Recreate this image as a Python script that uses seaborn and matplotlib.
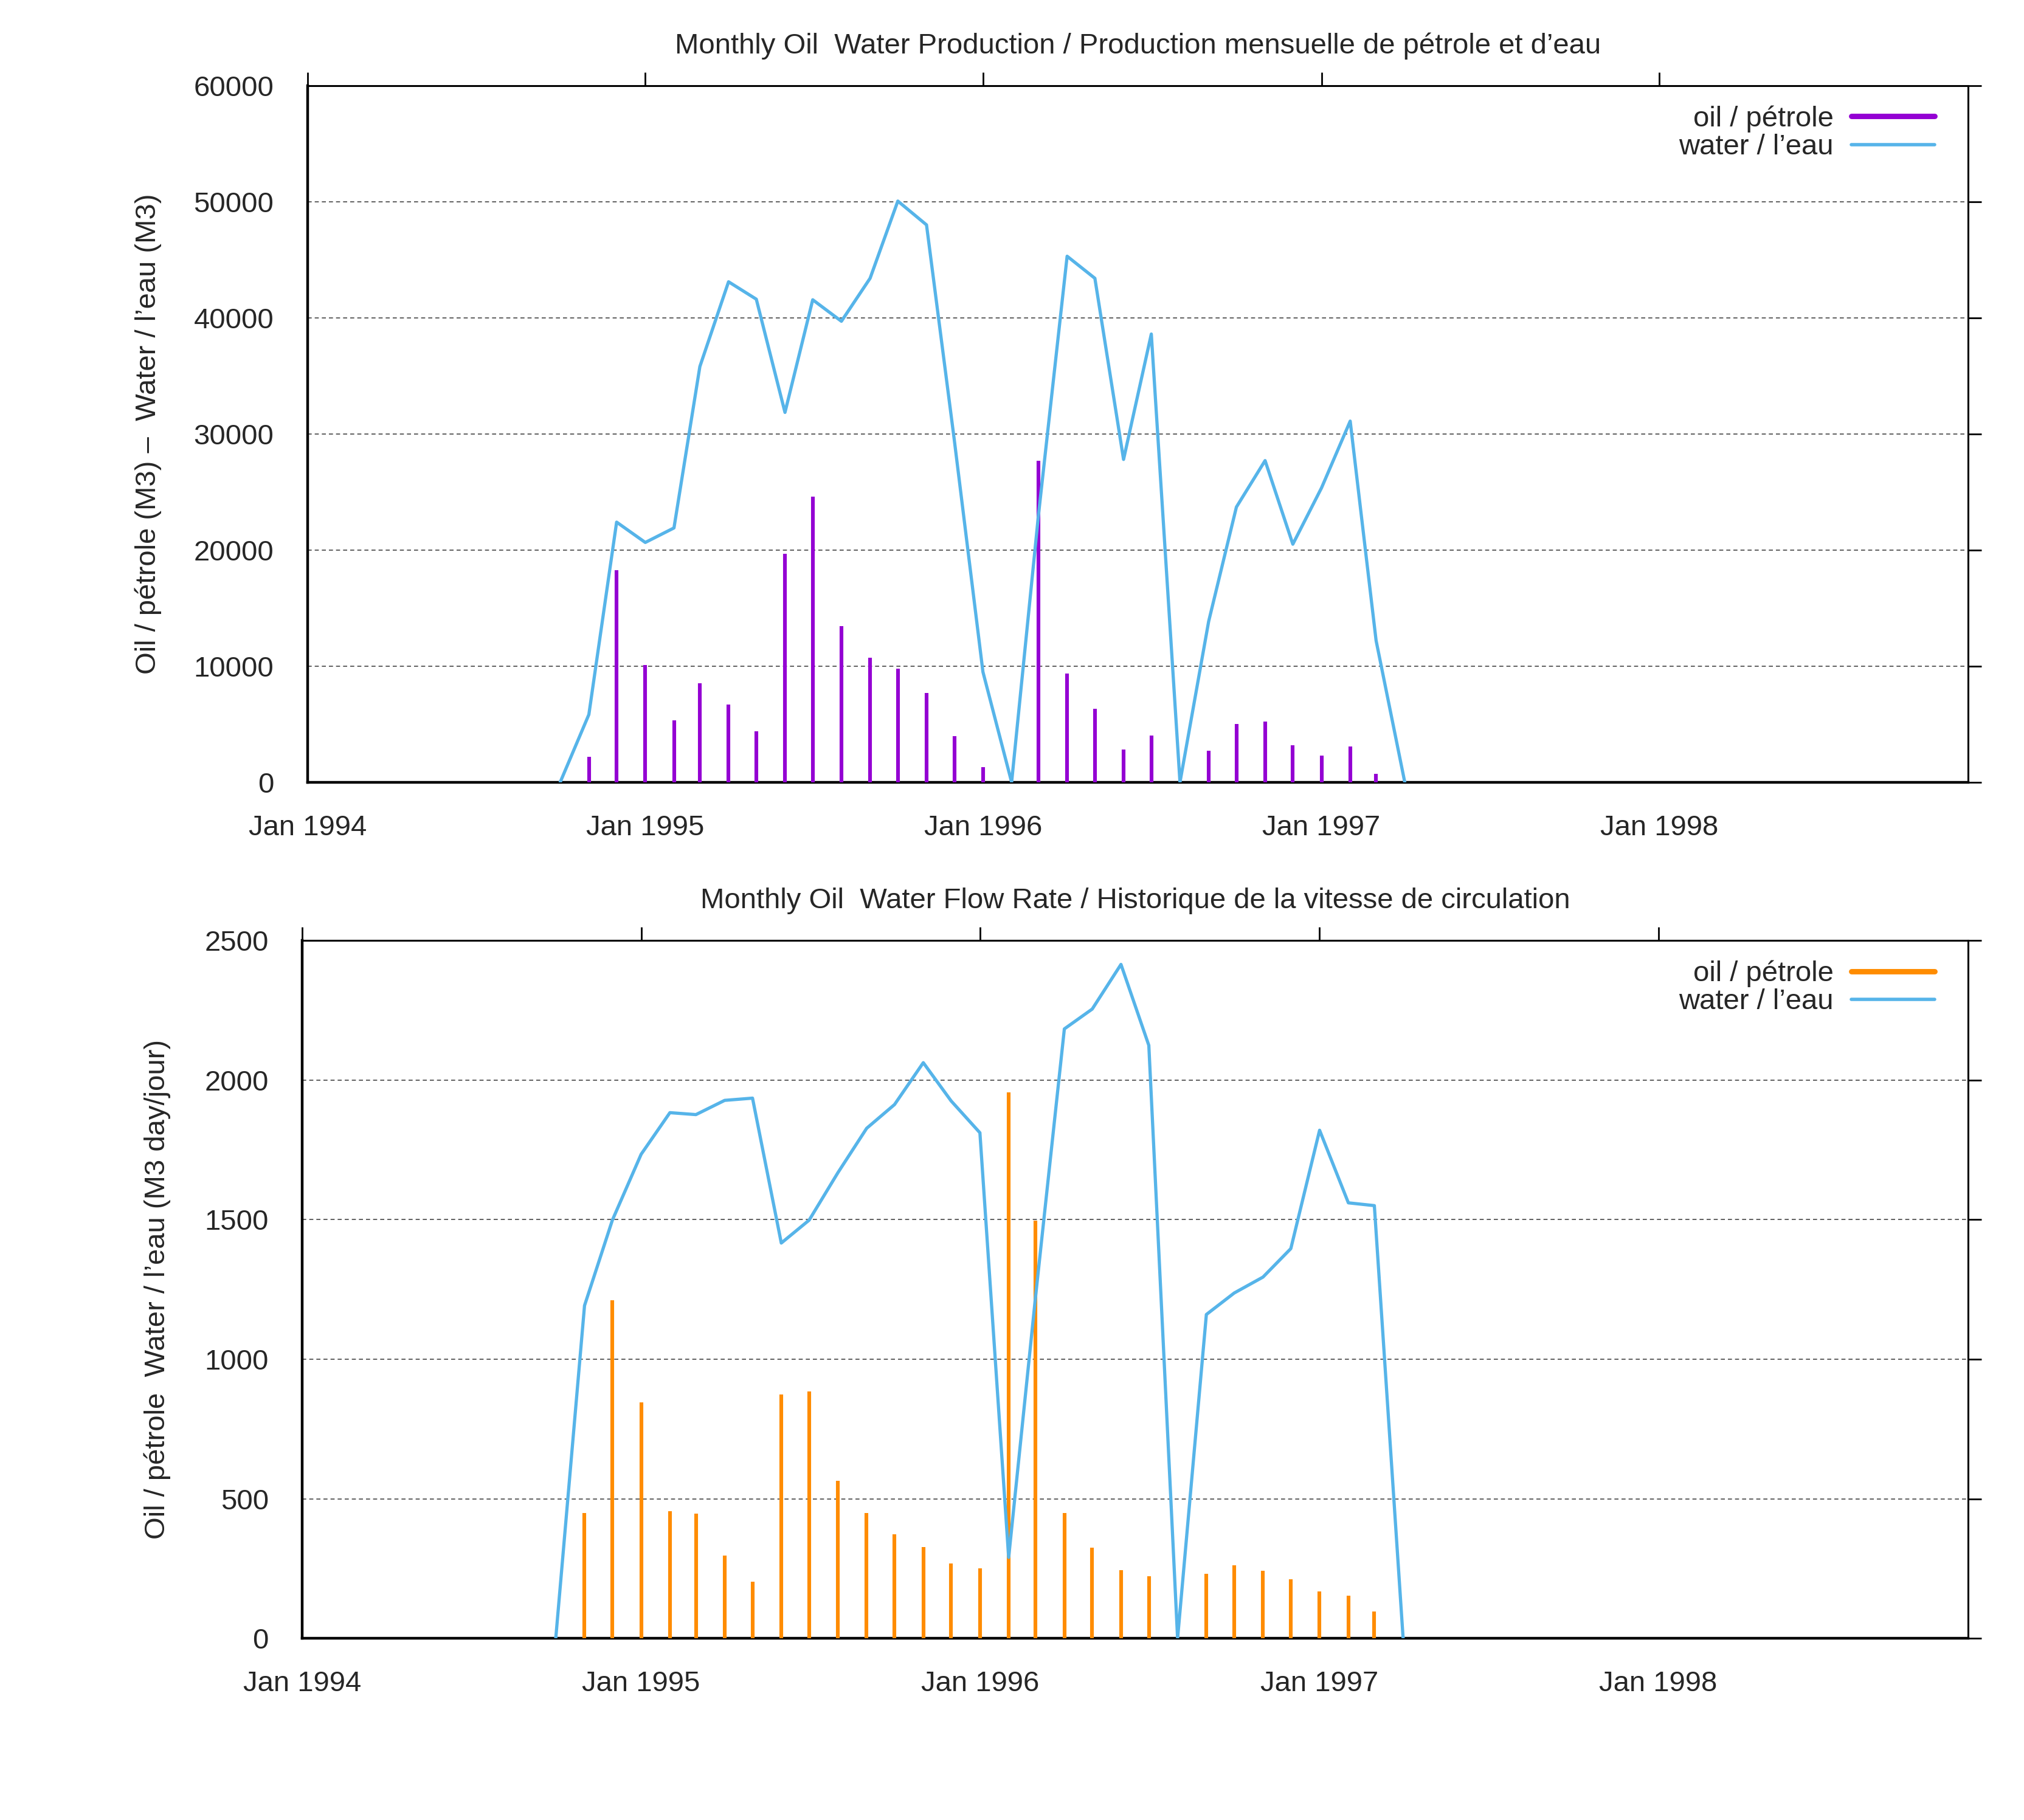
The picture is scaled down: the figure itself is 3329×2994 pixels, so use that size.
import pandas as pd
import matplotlib.pyplot as plt
import matplotlib.dates as mdates
from matplotlib.lines import Line2D
from matplotlib.ticker import MultipleLocator
import seaborn as sns

# ===============================
# Data
# ===============================
months = pd.date_range("1994-10-01", periods=31, freq="MS")

# monthly production (M3)
prod_oil = [0, 2180, 18270, 10070, 5310, 8520, 6680, 4390, 19670, 24610,
            13430, 10740, 9780, 7680, 3950, 1280, 0, 27700, 9350, 6310,
            2840, 4020, 0, 2730, 5020, 5200, 3170, 2320, 3060, 740, 0]
prod_water = [0, 5830, 22400, 20650, 21900, 35800, 43100, 41600, 31850, 41550,
              39700, 43400, 50050, 48000, 29500, 9500, 0, 23000, 45300, 43400,
              27800, 38600, 0, 13850, 23700, 27700, 20500, 25350, 31100, 12200, 0]

# monthly flow rate (M3 day/jour)
rate_oil = [0, 450, 1210, 845, 455, 447, 297, 202, 874, 884,
            564, 450, 372, 328, 268, 251, 1956, 1496, 450, 325,
            245, 222, 0, 232, 261, 243, 212, 168, 153, 96, 0]
rate_water = [0, 1192, 1498, 1734, 1883, 1876, 1927, 1935, 1416, 1498,
              1668, 1827, 1912, 2062, 1925, 1811, 290, 1225, 2183, 2254,
              2414, 2124, 0, 1160, 1237, 1294, 1396, 1820, 1560, 1550, 0]

year_ticks = pd.date_range("1994-01-01", "1998-01-01", freq="YS")

titles = ["Monthly Oil  Water Production / Production mensuelle de pétrole et d\u2019eau",
          "Monthly Oil  Water Flow Rate / Historique de la vitesse de circulation"]
ylabels = ["Oil / pétrole (M3) \u2013  Water / l\u2019eau (M3)",
           "Oil / pétrole  Water / l\u2019eau (M3 day/jour)"]
legend_labels = ["oil / pétrole", "water / l\u2019eau"]

PURPLE = "#9400D3"
BLUE = "#56B4E9"
ORANGE = "#FF8C00"

sns.set_style("white")
plt.rcParams["font.family"] = ["Liberation Sans", "DejaVu Sans"]
plt.rcParams["font.size"] = 17

df_prod = pd.DataFrame({"Month": months, "Oil": prod_oil, "Water": prod_water})
df_rate = pd.DataFrame({"Month": months, "Oil": rate_oil, "Water": rate_water})

fig = plt.figure(figsize=(16.645, 14.97), dpi=200)
ax1 = fig.add_axes([0.152, 0.5702, 0.8204, 0.3828])
ax2 = fig.add_axes([0.1494, 0.0998, 0.8231, 0.3835])


def draw_panel(ax, df, oil_color, ymax, ystep, title, ylabel, label_x):
    ax.vlines(df["Month"], 0, df["Oil"], color=oil_color, lw=2.2, zorder=3)
    sns.lineplot(data=df, x="Month", y="Water", ax=ax, color=BLUE, lw=1.9, zorder=4)

    ax.set_xlim(pd.Timestamp("1994-01-01"), pd.Timestamp("1998-12-01"))
    ax.set_ylim(0, ymax)
    ax.set_xticks(year_ticks)
    ax.xaxis.set_major_formatter(mdates.DateFormatter("%b %Y"))
    ax.yaxis.set_major_locator(MultipleLocator(ystep))

    ax.set_axisbelow(True)
    ax.yaxis.grid(True, linestyle=(0, (4, 3)), color="#444444", lw=0.6)
    ax.xaxis.grid(False)

    ax.tick_params(direction="out", length=8, width=1.0, top=True, right=True,
                   labelsize=17, color="black")
    ax.tick_params(axis="y", pad=12)
    ax.tick_params(axis="x", pad=11)
    for side in ["left", "bottom"]:
        ax.spines[side].set_linewidth(1.6)
    for side in ["top", "right"]:
        ax.spines[side].set_linewidth(1.1)
    for sp in ax.spines.values():
        sp.set_color("black")

    ax.set_title(title, fontsize=17, y=1.0, pad=19)
    ax.set_xlabel("")
    ax.set_ylabel(ylabel, fontsize=17)
    ax.yaxis.set_label_coords(label_x, 0.5)

    handles = [Line2D([0], [0], color=oil_color, lw=3.2),
               Line2D([0], [0], color=BLUE, lw=2.0)]
    ax.legend(handles, legend_labels, loc="upper right", bbox_to_anchor=(0.988, 0.991),
              frameon=False, markerfirst=False, handlelength=2.9, handletextpad=0.63,
              labelspacing=0.05, borderpad=0.0, borderaxespad=0.47, fontsize=17)


draw_panel(ax1, df_prod, PURPLE, 60000, 10000, titles[0], ylabels[0], -0.088)
draw_panel(ax2, df_rate, ORANGE, 2500, 500, titles[1], ylabels[1], -0.079)

plt.savefig("out.png", dpi=200)
